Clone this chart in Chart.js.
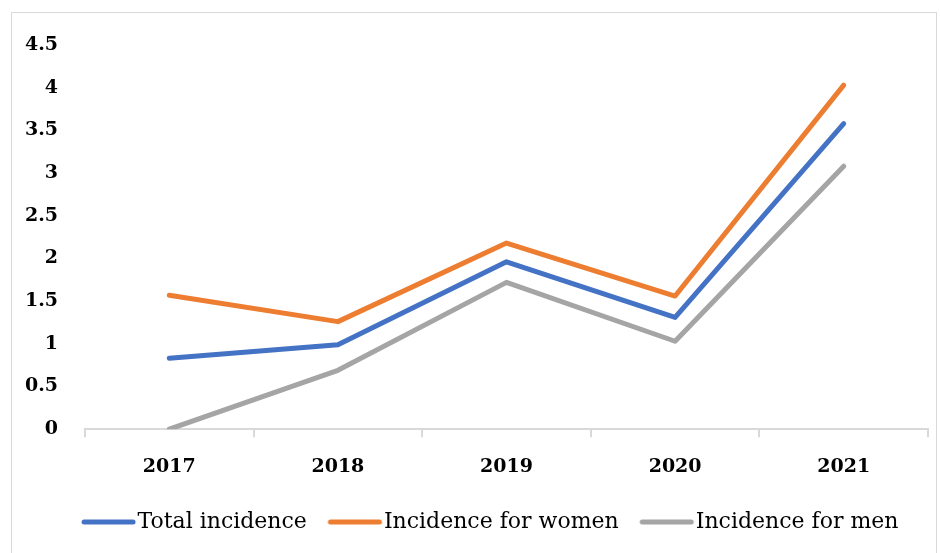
<!DOCTYPE html>
<html>
<head>
<meta charset="utf-8">
<script src="https://cdn.jsdelivr.net/npm/chart.js@4"></script>
<style>
html,body{margin:0;padding:0;background:#fff;}
#wrap{position:relative;width:940px;height:553px;}
</style>
</head>
<body>
<div id="wrap"><canvas id="c" width="940" height="553"></canvas></div>
<script>
const years = ["2017", "2018", "2019", "2020", "2021"];
const totalIncidence = [0.83, 0.99, 1.96, 1.31, 3.58];
const womenIncidence = [1.57, 1.26, 2.18, 1.56, 4.03];
const menIncidence = [0.00, 0.69, 1.72, 1.03, 3.08];
const seriesNames = ["Total incidence", "Incidence for women", "Incidence for men"];
const seriesColors = ["#4472C4", "#ED7D31", "#A5A5A5"];

const FONT = "'DejaVu Serif', serif";

// legend swatch: a short thick line with round caps, offset so it sits close to its text
function swatch(color) {
  const c = document.createElement('canvas');
  c.width = 120; c.height = 10;
  const g = c.getContext('2d');
  g.strokeStyle = color;
  g.lineWidth = 5;
  g.lineCap = 'round';
  g.beginPath();
  g.moveTo(43, 5);
  g.lineTo(92, 5);
  g.stroke();
  return c;
}

const borderPlugin = {
  id: 'outerBorder',
  beforeDraw(chart) {
    const ctx = chart.ctx;
    ctx.save();
    ctx.fillStyle = '#ffffff';
    ctx.fillRect(0, 0, chart.width, chart.height);
    ctx.strokeStyle = '#d9d9d9';
    ctx.lineWidth = 1;
    ctx.strokeRect(11.5, 12.5, 925, 545);
    ctx.restore();
  }
};

// nudge the legend row to the right, as in the reference
const legendShift = {
  id: 'legendShift',
  afterLayout(chart) {
    if (chart.legend) {
      chart.legend.left += 17;
      chart.legend.right += 17;
    }
  }
};

function ds(i, data) {
  return {
    label: seriesNames[i],
    data: data,
    borderColor: seriesColors[i],
    backgroundColor: seriesColors[i],
    borderWidth: 5,
    borderCapStyle: 'round',
    borderJoinStyle: 'round',
    pointRadius: 0,
    pointHoverRadius: 0,
    pointStyle: swatch(seriesColors[i]),
    tension: 0,
    fill: false
  };
}

new Chart(document.getElementById('c'), {
  type: 'line',
  data: {
    labels: years,
    datasets: [ds(0, totalIncidence), ds(1, womenIncidence), ds(2, menIncidence)]
  },
  options: {
    responsive: false,
    animation: false,
    devicePixelRatio: 1,
    layout: { padding: { left: 12, right: 12, top: 45, bottom: 10 } },
    plugins: {
      tooltip: { enabled: false },
      legend: {
        position: 'bottom',
        labels: {
          usePointStyle: true,
          pointStyleWidth: 51,
          boxHeight: 22,
          padding: 15,
          color: '#000',
          font: { family: FONT, size: 22 }
        }
      }
    },
    scales: {
      x: {
        offset: true,
        grid: {
          offset: true,
          drawOnChartArea: false,
          drawTicks: true,
          tickLength: 8,
          color: '#d9d9d9',
          lineWidth: 2
        },
        border: { display: true, color: '#d9d9d9', width: 2 },
        ticks: {
          color: '#000',
          padding: 18,
          font: { family: FONT, size: 19, weight: 'bold' }
        }
      },
      y: {
        min: 0,
        max: 4.5,
        grid: { display: false, drawTicks: false },
        border: { display: false },
        afterFit(scale) { scale.width = 73; },
        ticks: {
          stepSize: 0.5,
          padding: 27,
          color: '#000',
          font: { family: FONT, size: 19, weight: 'bold' },
          callback: (v) => String(v)
        }
      }
    }
  },
  plugins: [borderPlugin, legendShift]
});
</script>
</body>
</html>
